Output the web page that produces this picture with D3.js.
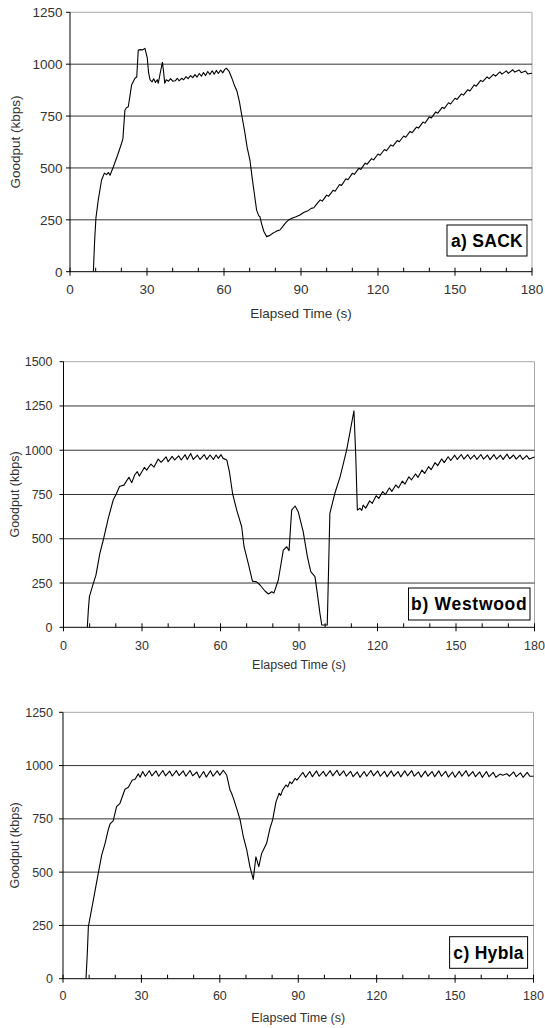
<!DOCTYPE html>
<html>
<head>
<meta charset="utf-8">
<script src="https://cdn.jsdelivr.net/npm/d3@7/dist/d3.min.js"></script>
<style>
  html, body { margin: 0; padding: 0; background: #fff; }
  svg { display: block; }
  text { font-family: "Liberation Sans", Arial, sans-serif; }
</style>
</head>
<body>
<svg id="chart" width="545" height="1028"></svg>
<script>
// ---------------- DATA ----------------
const timeTicks = [0, 30, 60, 90, 120, 150, 180];
const yTicks1250 = [0, 250, 500, 750, 1000, 1250];
const yTicks1500 = [0, 250, 500, 750, 1000, 1250, 1500];
const panelLabels = ["a) SACK", "b) Westwood", "c) Hybla"];
const xTitle = "Elapsed Time (s)";
const yTitle = "Goodput (kbps)";

// [time s, goodput kbps]
const sackGoodput = [
  [9.1,0],[9.6,150],[10.1,259],[11,345],[12.3,442],[13.4,475],[14.2,468],[15,478],[15.6,465],[16.9,506],
  [18.5,560],[20.1,619],[20.6,640],[21.4,779],[22,790],[22.7,795],[23.4,850],[24,900],[25.3,932],[26,938],
  [26.6,1068],[27.5,1070],[28.2,1068],[29.2,1076],[30.1,1030],[30.6,960],[31.2,924],[32,915],[32.6,930],[33.3,912],
  [34,925],[34.4,908],[35.2,960],[36,1009],[36.5,960],[36.9,908],[37.5,925],[38.4,918],[39.2,930],[40,918],
  [41,920],[41.8,932],[42.5,920],[43.5,932],[44.3,925],[45.2,940],[46,930],[47,945],[47.8,935],[48.7,950],
  [49.5,938],[50.4,955],[51.2,942],[52,960],[52.8,945],[53.7,965],[54.5,950],[55.4,968],[56.2,952],[57,970],
  [57.8,955],[58.7,972],[59.5,958],[60.3,975],[61,980],[62,965],[63,935],[64,900],[65,872],[66,820],
  [66.9,755],[68,680],[69,600],[70.1,538],[71,450],[72,360],[72.7,297],[73.5,270],[74,265],[74.6,233],
  [75.5,195],[76.6,169],[77.9,175],[79,185],[80,192],[81,198],[81.8,201],[83,220],[84,235],[85.1,249],
  [86.5,258],[88,265],[89.6,273],[91,285],[92.5,292],[94,305],[95,308],[96.1,326],
  [97.5,346],[98.3,340],[100,369],[100.8,364],[102.5,392],[103.3,388],[105,420],[105.8,416],[107.5,448],[108.3,443],
  [110,474],[110.8,469],[112.5,498],[113.3,493],[115,523],[115.8,518],[117.5,545],[118.3,539],[120,567],[120.8,561],
  [122.5,589],[123.3,583],[125,611],[125.8,605],[127.5,632],[128.3,626],[130,654],[130.8,648],[132.5,676],[133.3,670],
  [135,697],[135.8,692],[137.5,721],[138.3,716],[140,746],[140.8,741],[142.5,770],[143.3,764],[145,792],[145.8,786],
  [147.5,814],[148.3,808],[150,836],[150.8,830],[152.5,857],[153.3,851],[155,877],[155.8,871],[157.5,900],[158.3,894],
  [160,922],[160.8,916],[162.5,939],[163.3,930],[165,951],[165.8,942],[167.5,963],[168.3,952],[170,968],[170.8,956],
  [172.5,973],[173.3,962],[175,972],[175.8,959],[177.5,967],[178.3,953],[180,956]
];

const westwoodGoodput = [
  [9.1,0],[9.5,100],[9.9,173],[11.4,248],[12.4,295],[13.9,418],[15.2,493],[17.1,615],[19,719],[20.3,757],
  [21.4,795],[21.9,798],[23.1,803],[25,847],[26.1,817],[27.2,860],[28.2,879],[29,854],[30.9,903],[31.8,888],
  [33.4,922],[34.6,905],[36.2,950],[37.3,932],[39.2,963],[40,935],[41.5,965],[42.5,945],[44,968],[45,945],
  [46.5,975],[47.3,948],[48.6,982],[49.6,948],[51.2,972],[52.2,948],[53.8,975],[54.8,948],[56,973],[57.3,948],
  [58.3,973],[59.2,954],[60.2,975],[61,954],[62.4,945],[63.4,879],[64.6,757],[66.2,662],[68.1,568],[69,455],
  [70.6,361],[72.2,261],[73.8,257],[75.1,239],[77,205],[78.3,188],[79.6,201],[80.4,193],[82.1,267],[84,436],
  [85.3,455],[86.2,433],[87.2,662],[88.5,685],[89.7,653],[91.6,540],[93.2,399],[94.5,314],[96.1,286],[97,192],
  [98,79],[98.7,13],[100.8,13],[101.8,644],[103.7,757],[105.7,850],[108.2,1001],[111,1223],[111.7,963],[112.3,662],
  [113.3,672],[114,660],[114.5,690],[115.5,673],[117,714],[118,700],[119.5,743],[120.5,728],[122,767],[123,749],
  [124.5,787],[125.5,768],[127,804],[128,787],[129.5,826],[130.5,809],[132,850],[133,833],[134.5,866],[135.5,847],
  [137,888],[138,869],[139.5,907],[140.5,890],[142,930],[143,913],[144.5,951],[145.5,930],[147,963],[148,942],
  [149.5,972],[150.5,948],[152,976],[153,950],[154.5,975],[155.5,950],[157,972],[158,948],[159.5,976],[160.5,950],
  [162,973],[163,947],[164.5,975],[165.5,950],[167,972],[168,948],[169.5,978],[170.5,952],[172,973],[173,950],
  [174.5,972],[175.5,948],[177,970],[178,950],[180,962]
];

const hyblaGoodput = [
  [8.8,0],[9.3,120],[9.7,244],[10.3,283],[11.6,369],[13.5,495],[14.8,580],[16.1,635],[17.3,698],[18,726],
  [19.2,741],[20.5,807],[21.8,823],[23.7,889],[25,898],[26.5,932],[27.5,935],[28.8,961],[29.5,945],
  [30.5,972],[31.5,950],[33,976],[34,952],[35.6,975],[36.6,950],[38.2,977],[39.2,952],[40.8,974],[41.8,951],
  [43.4,976],[44.4,953],[46,975],[47,950],[48.6,977],[49.6,952],[51.2,970],[52.2,943],[53.8,972],[54.8,946],
  [56.4,976],[57.4,950],[59,975],[60,955],[61.3,978],[62.6,956],[63.9,885],[64.5,870],[65.2,846],[66.4,800],
  [67.7,749],[69,666],[70.3,604],[71.5,526],[72.8,466],[73.8,572],[74.9,526],[76,588],[77.9,635],[79.2,706],
  [80.2,745],[81.5,831],[82.7,870],[83.3,860],[84,885],[85.3,909],[86,900],[86.8,924],[87.5,915],[88.8,940],
  [89.5,932],[90.7,951],[91.8,968],[92.8,945],[94.4,972],[95.4,948],[97,975],[98,950],[99.6,973],[100.6,950],
  [102.2,976],[103.2,952],[104.8,978],[105.8,953],[107.4,975],[108.4,950],[110,973],[111,948],[112.6,970],[113.6,945],
  [115.2,972],[116.2,950],[117.8,977],[118.8,952],[120.4,975],[121.4,950],[123,973],[124,948],[125.6,975],[126.6,950],
  [128.2,972],[129.2,947],[130.8,975],[131.8,952],[133.4,976],[134.4,950],[136,970],[137,946],[138.6,974],[139.6,950],
  [141.2,972],[142.2,948],[143.8,975],[144.8,950],[146.4,973],[147.4,946],[149,970],[150,945],[151.6,973],[152.6,950],
  [154.2,976],[155.2,950],[156.8,972],[157.8,948],[159.4,970],[160.4,945],[162,972],[163,948],[164.6,968],[165.6,945],
  [167.2,960],[168.2,955],[169.8,962],[170.8,950],[172.4,970],[173.4,948],[175,966],[176,945],[177.6,968],[178.6,950],
  [180,950]
];

// ---------------- LAYOUT ----------------
const svg = d3.select("#chart");

const panels = [
  { data: sackGoodput, label: panelLabels[0], yTicks: yTicks1250, yMax: 1250,
    left: 70, right: 532, top: 12.3, bottom: 271.7, font: 13.5,
    yLabGap: 7.5, xLabBase: 22.5, xTitleBase: 46.5, yTitleX: 15.6, ls: 0.3,
    box: { x: 447, y: 225, w: 80, h: 31 } },
  { data: westwoodGoodput, label: panelLabels[1], yTicks: yTicks1500, yMax: 1500,
    left: 63.5, right: 534.5, top: 361.7, bottom: 627.3, font: 12.5,
    yLabGap: 11, xLabBase: 22.5, xTitleBase: 42, yTitleX: 14, ls: 0.7,
    box: { x: 408.5, y: 588, w: 121.5, h: 32 } },
  { data: hyblaGoodput, label: panelLabels[2], yTicks: yTicks1250, yMax: 1250,
    left: 63, right: 533.5, top: 712.3, bottom: 978.7, font: 12.5,
    yLabGap: 10, xLabBase: 21, xTitleBase: 43.5, yTitleX: 14, ls: 0.3,
    box: { x: 449.6, y: 936.7, w: 78, h: 31.6 } }
];

panels.forEach(drawPanel);

function drawPanel(p) {
  const g = svg.append("g");
  const x = d3.scaleLinear().domain([0, 180]).range([p.left, p.right]);
  const y = d3.scaleLinear().domain([0, p.yMax]).range([p.bottom, p.top]);

  // plot area border (top & right)
  g.append("line").attr("x1", x(0)).attr("x2", x(180)).attr("y1", y(p.yMax)).attr("y2", y(p.yMax))
    .attr("stroke", "#a8a8a8").attr("stroke-width", 1);
  g.append("line").attr("x1", x(180)).attr("x2", x(180)).attr("y1", y(p.yMax)).attr("y2", y(0))
    .attr("stroke", "#a8a8a8").attr("stroke-width", 1);

  // gridlines
  g.selectAll(".grid").data(p.yTicks.filter(v => v > 0 && v < p.yMax)).enter()
    .append("line")
    .attr("x1", x(0)).attr("x2", x(180))
    .attr("y1", d => y(d)).attr("y2", d => y(d))
    .attr("stroke", "#333").attr("stroke-width", 1);

  // series line
  const line = d3.line().x(d => x(d[0])).y(d => y(d[1]));
  g.append("path").datum(p.data).attr("d", line)
    .attr("fill", "none").attr("stroke", "#000").attr("stroke-width", 1.1)
    .attr("stroke-linejoin", "round");

  // y axis
  g.append("line").attr("x1", x(0)).attr("x2", x(0)).attr("y1", y(0)).attr("y2", y(p.yMax))
    .attr("stroke", "#000");
  g.selectAll(".ytick").data(p.yTicks).enter().append("line")
    .attr("x1", x(0) - 4).attr("x2", x(0))
    .attr("y1", d => y(d)).attr("y2", d => y(d)).attr("stroke", "#000");
  g.selectAll(".ylab").data(p.yTicks).enter().append("text")
    .attr("x", x(0) - p.yLabGap).attr("y", d => y(d)).attr("dy", "0.36em")
    .attr("text-anchor", "end").attr("font-size", p.font).attr("fill", "#333")
    .text(d => d);

  // x axis
  g.append("line").attr("x1", x(0)).attr("x2", x(180)).attr("y1", y(0)).attr("y2", y(0))
    .attr("stroke", "#000");
  const allTicks = d3.range(0, 181, 10);
  g.selectAll(".xtick").data(allTicks).enter().append("line")
    .attr("x1", d => x(d)).attr("x2", d => x(d))
    .attr("y1", y(0) - 4)
    .attr("y2", d => timeTicks.includes(d) ? y(0) + 4 : y(0))
    .attr("stroke", "#000");
  g.selectAll(".xlab").data(timeTicks).enter().append("text")
    .attr("x", d => x(d)).attr("y", y(0) + p.xLabBase)
    .attr("text-anchor", "middle").attr("font-size", p.font).attr("fill", "#333")
    .text(d => d);

  // axis titles
  g.append("text").attr("x", (p.left + p.right) / 2).attr("y", y(0) + p.xTitleBase)
    .attr("text-anchor", "middle").attr("font-size", p.font).attr("fill", "#333")
    .text(xTitle);
  g.append("text")
    .attr("transform", `translate(${p.yTitleX},${(p.top + p.bottom) / 2}) rotate(-90)`)
    .attr("dy", "0.36em")
    .attr("text-anchor", "middle").attr("font-size", p.font).attr("fill", "#333")
    .text(yTitle);

  // label box
  g.append("rect").attr("x", p.box.x).attr("y", p.box.y).attr("width", p.box.w).attr("height", p.box.h)
    .attr("fill", "#fff").attr("stroke", "#000").attr("stroke-width", 1);
  g.append("text").attr("x", p.box.x + p.box.w / 2).attr("y", p.box.y + p.box.h / 2).attr("dy", "0.36em")
    .attr("text-anchor", "middle").attr("font-size", 17.5).attr("font-weight", "bold")
    .attr("letter-spacing", p.ls).attr("fill", "#000")
    .text(p.label);
}
</script>
</body>
</html>
